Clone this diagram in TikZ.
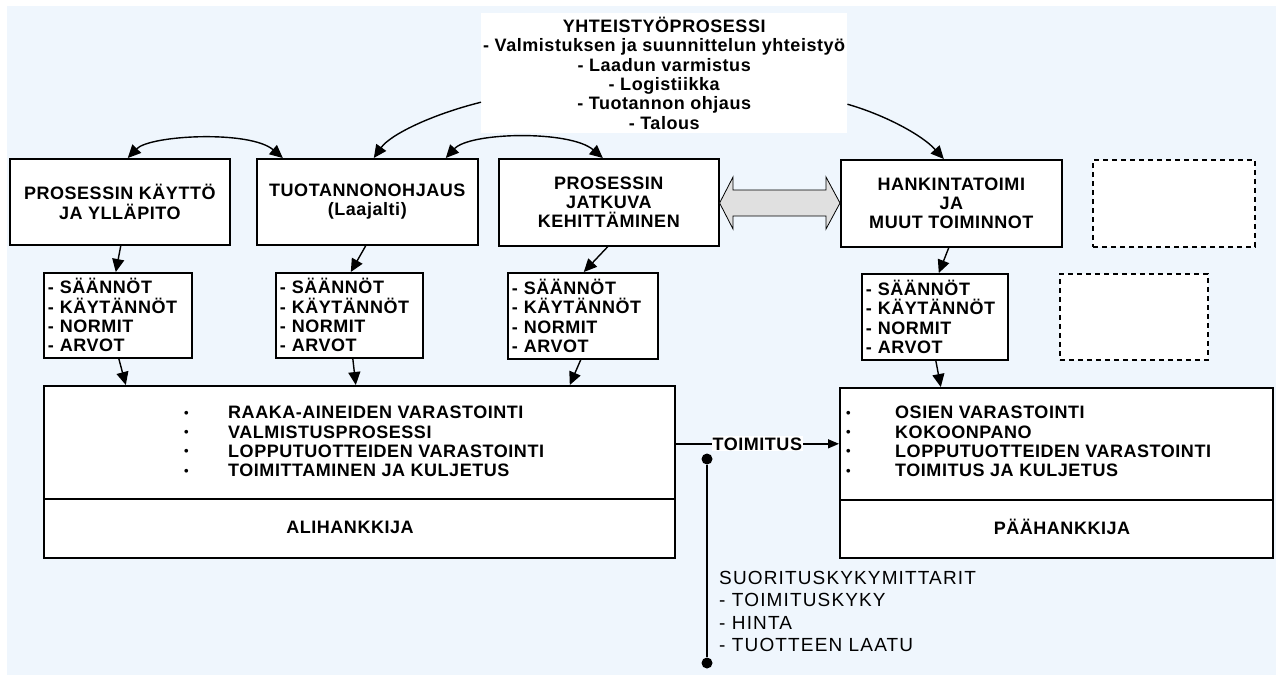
\documentclass[tikz,border=0pt]{standalone}
\usepackage{fontspec}
\setmainfont{Liberation Sans}
\newfontfamily\lsans[LetterSpace=3]{Liberation Sans}
\newfontfamily\lsansw[LetterSpace=6]{Liberation Sans}
\usetikzlibrary{arrows.meta}
\definecolor{bgblue}{RGB}{239,246,253}
\definecolor{arrgray}{RGB}{224,224,224}
\newcommand\bxf{\lsans\bfseries\fontsize{18}{19.3}\selectfont}
\newcommand\rgf{\lsansw\fontsize{19}{22.4}\selectfont}
\newcommand\blt{\raisebox{1.5pt}{\fontsize{13}{13}\selectfont\textbullet}}
\newcommand\blA{\makebox[44pt][l]{\blt}}
\newcommand\blB{\makebox[49pt][l]{\blt}}
\begin{document}
\begin{tikzpicture}[x=1pt,y=-1pt,
 box/.style={draw, line width=1.6pt, fill=white, anchor=north west, inner sep=0pt, align=center, font=\bxf},
 rulebox/.style={box, align=left, inner xsep=4pt},
 dashbox/.style={draw, dash pattern=on 5pt off 4pt, line width=1.5pt, fill=white, anchor=north west, inner sep=0pt},
 arr/.style={line width=1.4pt, -{Triangle[length=13pt,width=12pt]}},
 biarr/.style={line width=1.4pt, {Triangle[length=13pt,width=12pt]}-{Triangle[length=13pt,width=12pt]}},
 dot/.style={circle, fill=black, inner sep=0pt, minimum size=11pt},
 lst/.style={anchor=west, align=left, font=\bxf, inner sep=0pt},
]
\useasboundingbox (0,0) rectangle (1276,675);
\fill[bgblue] (7,6) rectangle (1276,675);

% top box
\node[fill=white, inner sep=0pt, minimum width=366, minimum height=120, anchor=north west, align=center, font=\bxf] (top) at (481,13)
 {YHTEISTYÖPROSESSI\\- Valmistuksen ja suunnittelun yhteistyö\\- Laadun varmistus\\- Logistiikka\\- Tuotannon ohjaus\\- Talous};

% row 1
\node[box, minimum width=220, minimum height=86] (a) at (9,158) {PROSESSIN KÄYTTÖ\\JA YLLÄPITO};
\node[box, minimum width=221, minimum height=86] (b) at (256,158) {TUOTANNONOHJAUS\\(Laajalti)};
\node[box, minimum width=220, minimum height=87] (c) at (498,158) {PROSESSIN\\JATKUVA\\KEHITTÄMINEN};
\node[box, minimum width=221, minimum height=87] (d) at (840,159) {HANKINTATOIMI\\JA\\MUUT TOIMINNOT};
\node[dashbox, minimum width=162, minimum height=87] (e1) at (1092,159) {};
\node[dashbox, minimum width=148, minimum height=86] (e2) at (1059,273) {};

% double arrow between c and d
\filldraw[fill=arrgray, draw=black, line width=0.8pt]
 (c.east |- 0,203) -- (733,177) -- (733,190) -- (826,190) -- (826,177) -- (d.west |- 0,203)
 -- (826,229) -- (826,216) -- (733,216) -- (733,229) -- cycle;

% row 2
\node[rulebox, minimum width=148, minimum height=85, text width=140] (r1) at (43,272) {- SÄÄNNÖT\\- KÄYTÄNNÖT\\- NORMIT\\- ARVOT};
\node[rulebox, minimum width=147, minimum height=85, text width=139] (r2) at (275,272) {- SÄÄNNÖT\\- KÄYTÄNNÖT\\- NORMIT\\- ARVOT};
\node[rulebox, minimum width=150, minimum height=86, text width=142] (r3) at (507,272) {- SÄÄNNÖT\\- KÄYTÄNNÖT\\- NORMIT\\- ARVOT};
\node[rulebox, minimum width=146, minimum height=86, text width=138] (r4) at (861,273) {- SÄÄNNÖT\\- KÄYTÄNNÖT\\- NORMIT\\- ARVOT};

% bottom boxes
\node[box, minimum width=631, minimum height=172] (sub) at (43,385) {};
\draw[line width=1.2pt] (sub.west |- 0,499) -- (sub.east |- 0,499);
\node[lst] (subl) at (184,441.5) {\blA RAAKA-AINEIDEN VARASTOINTI\\\blA VALMISTUSPROSESSI\\\blA LOPPUTUOTTEIDEN VARASTOINTI\\\blA TOIMITTAMINEN JA KULJETUS};
\node[font=\bxf, inner sep=0pt] (subn) at (350,527) {ALIHANKKIJA};

\node[box, minimum width=433, minimum height=170] (main) at (839,387) {};
\draw[line width=1.2pt] (main.west |- 0,500) -- (main.east |- 0,500);
\node[lst] (mainl) at (846,441.5) {\blB OSIEN VARASTOINTI\\\blB KOKOONPANO\\\blB LOPPUTUOTTEIDEN VARASTOINTI\\\blB TOIMITUS JA KULJETUS};
\node[font=\bxf, inner sep=0pt] (mainn) at (1062,527) {PÄÄHANKKIJA};

% top connectors
\draw[biarr] ([xshift=8pt]a.north) .. controls (150,135) and (250,130) .. ([xshift=-84.5pt]b.north);
\draw[arr] ([yshift=-29pt]top.west) .. controls (430,115) and (390,135) .. ([xshift=6.5pt]b.north);
\draw[biarr] ([xshift=78.5pt]b.north) .. controls (470,132) and (570,130) .. ([xshift=-6pt]c.north);
\draw[arr] ([yshift=-31pt]top.east) .. controls (885,115) and (922,135) .. ([xshift=-7.5pt]d.north);

% row1 -> row2
\draw[arr] ([xshift=1pt]a.south) -- ([xshift=-2pt]r1.north);
\draw[arr] ([xshift=-1.5pt]b.south) -- ([xshift=1.5pt]r2.north);
\draw[arr] ([xshift=-1pt]c.south) -- ([xshift=1pt]r3.north);
\draw[arr] ([xshift=-2.5pt]d.south) -- ([xshift=4pt]r4.north);

% row2 -> bottom
\draw[arr] ([xshift=1pt]r1.south) -- ([xshift=-233.5pt]sub.north);
\draw[arr] ([xshift=3.5pt]r2.south) -- ([xshift=-3.5pt]sub.north);
\draw[arr] ([xshift=-2pt]r3.south) -- ([xshift=210.5pt]sub.north);
\draw[arr] ([xshift=1pt]r4.south) -- ([xshift=-115.5pt]main.north);

% toimitus
\draw[line width=1.4pt, -{Triangle[length=11pt,width=9pt]}] ([yshift=28pt]sub.east) -- node[fill=white, inner sep=1pt, font=\bxf] (toim) {TOIMITUS} ([yshift=29pt]main.west);

% performance line
\node[dot] (m1) at (707,459) {};
\node[dot] (m2) at (707,663) {};
\draw[line width=1.5pt] (m1) -- (m2);
\node[anchor=west, align=left, font=\rgf, inner sep=0pt] (perf) at (719,611.5)
 {SUORITUSKYKYMITTARIT\\- TOIMITUSKYKY\\- HINTA\\- TUOTTEEN LAATU};
\end{tikzpicture}
\end{document}
